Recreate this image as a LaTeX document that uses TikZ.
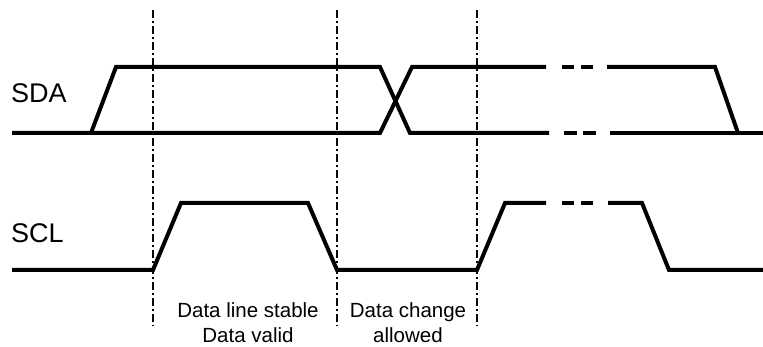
\documentclass[tikz,border=0pt]{standalone}
\usepackage{fontspec}
\setmainfont{Liberation Sans}
\begin{document}
\begin{tikzpicture}[x=1pt, y=-1pt, line join=miter,
		wave/.style={line width=4pt},
		guide/.style={line width=1.8pt, dash pattern=on 8pt off 3pt on 2pt off 3pt},
		sig/.style={font=\fontsize{27}{30}\selectfont, inner sep=0pt, anchor=base west},
		note/.style={font=\fontsize{20.5}{25}\selectfont, inner sep=0pt, align=center, anchor=north}]
	\useasboundingbox (0,0) rectangle (763,347);
	% levels
	\pgfmathsetmacro{\dh}{67}
	\pgfmathsetmacro{\dl}{133}
	\pgfmathsetmacro{\ch}{203}
	\pgfmathsetmacro{\cl}{270}
	% guides
	\foreach \gx in {153, 337, 477} {
		\draw[guide] (\gx, 10) -- (\gx, 326);
	}
	% SDA
	\draw[wave] (12,\dl) -- (380,\dl) -- (412,\dh) -- (546,\dh);
	\draw[wave] (91,\dl) -- (116,\dh) -- (380,\dh) -- (410,\dl) -- (549,\dl);
	\draw[wave] (607,\dh) -- (715,\dh) -- (738,\dl);
	\draw[wave] (610,\dl) -- (763,\dl);
	\foreach \a/\b in {562/574, 581/593} {
		\draw[wave] (\a,\dh) -- (\b,\dh);
	}
	\foreach \a/\b in {564/577, 583/596} {
		\draw[wave] (\a,\dl) -- (\b,\dl);
	}
	% SCL
	\draw[wave] (12,\cl) -- (153,\cl) -- (181,\ch) -- (308,\ch) -- (337,\cl)
		-- (477,\cl) -- (505,\ch) -- (546,\ch);
	\draw[wave] (608,\ch) -- (642,\ch) -- (669,\cl) -- (763,\cl);
	\foreach \a/\b in {562/574, 581/593} {
		\draw[wave] (\a,\ch) -- (\b,\ch);
	}
	% labels
	\node[sig] (sda) at (11,103) {SDA};
	\node[sig] (scl) at (11,243) {SCL};
	\node[note] (stable) at (248,302) {Data line stable\\Data valid};
	\node[note] (change) at (408,302) {Data change\\allowed};
\end{tikzpicture}
\end{document}
